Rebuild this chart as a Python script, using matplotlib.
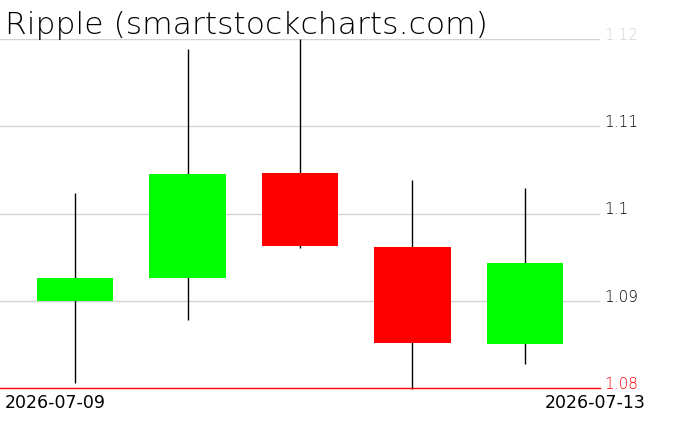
import matplotlib
matplotlib.use("Agg")
import matplotlib.pyplot as plt

dates = ["2026-07-09", "2026-07-10", "2026-07-11", "2026-07-12", "2026-07-13"]
opens = [1.0900, 1.0926, 1.1046, 1.0962, 1.0851]
closes = [1.0926, 1.1045, 1.0963, 1.0852, 1.0943]
highs = [1.1024, 1.1189, 1.1200, 1.1038, 1.1029]
lows = [1.0806, 1.0878, 1.0961, 1.0799, 1.0828]
yticks = [1.08, 1.09, 1.1, 1.11, 1.12]
ytick_labels = ["1.08", "1.09", "1.1", "1.11", "1.12"]
title = "Ripple (smartstockcharts.com)"

W, H = 676, 431
fig = plt.figure(figsize=(W / 100, H / 100), dpi=100)
ax = fig.add_axes([0, (H - 389) / H, 600 / W, (389 - 40) / H])
ax.set_xlim(-0.667, len(dates) - 1 + 0.667)
ax.set_ylim(1.08, 1.12)
ax.axis("off")

for t in yticks[1:]:
    ax.axhline(t, color="#d3d3d3", lw=1, zorder=0)
ax.axhline(yticks[0], color="red", lw=1, zorder=3, clip_on=False)

for i in range(len(dates)):
    o, c, h, l = opens[i], closes[i], highs[i], lows[i]
    col = "#00ff00" if c >= o else "#ff0000"
    ax.vlines(i, l, h, color="black", lw=1, zorder=1, clip_on=False)
    ax.bar(i, abs(c - o), bottom=min(o, c), width=0.676, color=col, zorder=2, linewidth=0)

for t, lab in zip(yticks, ytick_labels):
    colr = "red" if t == yticks[0] else ("#d3d3d3" if t == yticks[-1] else "black")
    ax.text(1.007, (t - 1.08) / 0.04, lab, transform=ax.transAxes, ha="left", va="baseline",
            fontsize=11, color=colr, fontweight="light")

fig.text(5 / W, 1 - 394 / H, dates[0], ha="left", va="top", fontsize=12.5, color="black")
fig.text(646 / W, 1 - 394 / H, dates[-1], ha="right", va="top", fontsize=12.5, color="black")

fig.text(5 / W, 1 - 34 / H, title, ha="left", va="baseline", fontsize=22.6, color="black",
         fontweight="light")

fig.savefig("out.png", dpi=100)
